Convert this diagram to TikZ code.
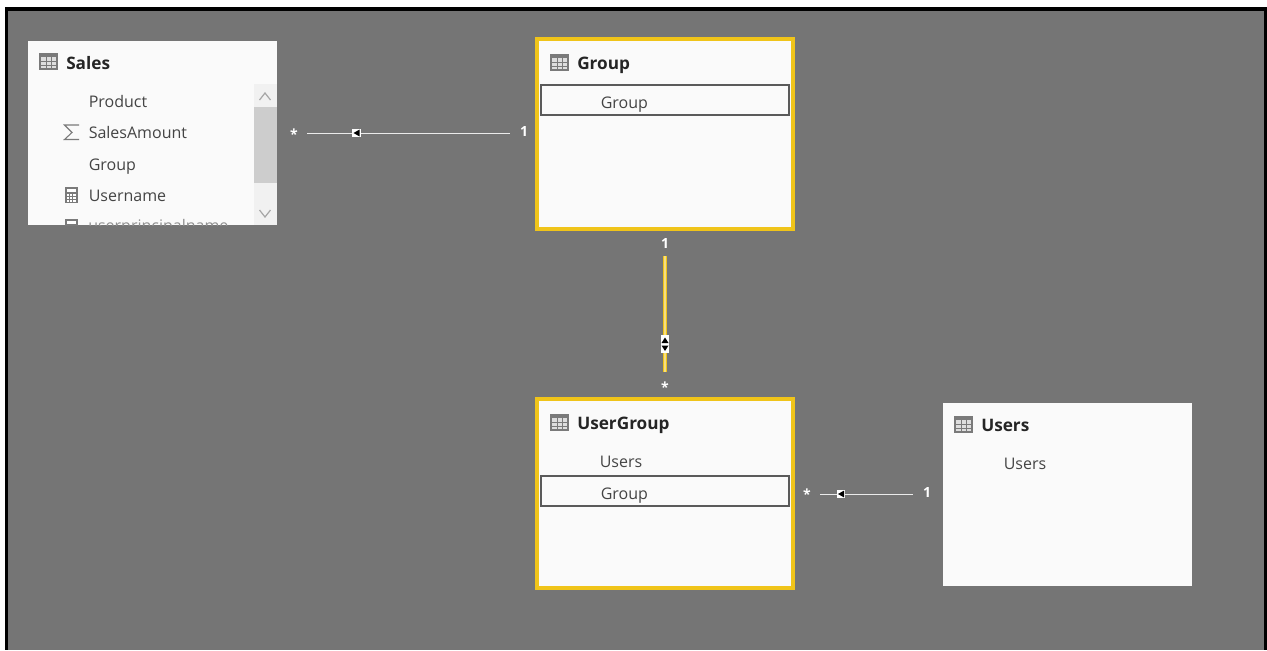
\documentclass[tikz,border=0pt]{standalone}
\usepackage{fontspec}
\setmainfont{Open Sans}
\definecolor{bg}{HTML}{757575}
\definecolor{card}{HTML}{FAFAFA}
\definecolor{pbi}{HTML}{F0C419}
\definecolor{ink}{HTML}{444444}
\definecolor{head}{HTML}{252525}
\definecolor{icon}{HTML}{7A7A7A}
\definecolor{rowline}{HTML}{5A5A5A}
\definecolor{sb}{HTML}{F1F1F1}
\definecolor{thumb}{HTML}{CDCDCD}
\definecolor{chev}{HTML}{A6A6A6}
\tikzset{
  x=0.75pt,y=-0.75pt,
  card/.style={fill=card,draw=none,anchor=north west,inner sep=0pt,outer sep=0pt},
  hot/.style={fill=card,draw=pbi,line width=3pt,anchor=north west,inner sep=0pt,outer sep=0pt},
  rowbox/.style={draw=rowline,line width=1.3pt,fill=none,anchor=north west,inner sep=0pt,outer sep=0pt,minimum width=186pt,minimum height=22.5pt},
  title/.style={anchor=base west,inner sep=0pt,font=\fontsize{12.9}{14}\selectfont\bfseries,text=head},
  field/.style={anchor=base west,inner sep=0pt,font=\fontsize{12}{14}\selectfont,text=ink},
  card mark/.style={inner sep=0pt,outer sep=0pt,font=\fontsize{10.5}{10}\selectfont\bfseries,text=white},
  rel/.style={draw=white!92!black,line width=0.75pt},
  hotrel/.style={draw=pbi,line width=3.6pt},
  hotcore/.style={draw=pbi!55!white,line width=1.2pt},
  flag/.style={fill=white,draw=none,inner sep=0pt,minimum width=6.4pt,minimum height=6.4pt},
  flagv/.style={fill=white,draw=none,inner sep=0pt,minimum width=6pt,minimum height=13.5pt},
}
\newcommand{\tblicon}[2]{%
  \fill[icon!25!white] (#1,#2) rectangle ++(17,15);
  \fill[icon] (#1,#2) rectangle ++(17,3);
  \draw[icon,line width=0.8pt] (#1,#2) rectangle ++(17,15);
  \draw[icon,line width=0.4pt] (#1+6,#2+3) -- ++(0,12) (#1+11.5,#2+3) -- ++(0,12)
     (#1,#2+7) -- ++(17,0) (#1,#2+11) -- ++(17,0);
}
\newcommand{\calcicon}[2]{%
  \fill[icon] (#1,#2) rectangle ++(13,16);
  \fill[white] (#1+2,#2+2) rectangle ++(9,3);
  \foreach \a in {0,3.2,6.4}{\foreach \b in {0,3,6}{
    \fill[white] (#1+2+\a,#2+7+\b) rectangle ++(2.2,2);}}
}
\newcommand{\triL}[2]{\fill[black] (#1+3,#2-3.4) -- (#1-3,#2) -- (#1+3,#2+3.4) -- cycle;}
\begin{document}
\begin{tikzpicture}
\useasboundingbox (0,0) rectangle (1267,650);
\fill[white] (0,0) rectangle (1267,650);
\fill[black] (5,7) rectangle (1267,650);
\fill[bg] (8,11) rectangle (1264,650);

% Sales
\node[card,minimum width=186.75pt,minimum height=138pt] (sales) at (28,41) {};
\begin{scope}
\clip (28,41) rectangle (277,225);
\fill[sb] (254,84) rectangle (277,225);
\fill[thumb] (254,107) rectangle (276.5,183);
\draw[chev,line width=0.9pt] (259.5,100) -- (265,93) -- (270.5,100);
\draw[chev,line width=0.9pt] (259.5,210) -- (265,217) -- (270.5,210);
\calcicon{65}{219}
\node[field,text=ink!60!white] (f5) at (88,231) {userprincipalname};
\end{scope}
\tblicon{40}{54}
\node[title] (salesT) at (66,69) {Sales};
\node[field] (f1) at (88.5,107) {Product};
\node[field] (f2) at (88.5,138) {SalesAmount};
\node[field] (f3) at (88.5,170) {Group};
\node[field] (f4) at (88.5,201) {Username};
\draw[icon,line width=0.8pt] (79,125) -- (64.5,125) -- (72,132.5) -- (64.5,139.5) -- (79,139.5);
\calcicon{65}{187}

% Group
\node[hot,minimum width=192pt,minimum height=142.5pt] (group) at (537,39) {};
\tblicon{551}{55}
\node[title] (groupT) at (577,69) {Group};
\node[rowbox] (groupR) at (541,85) {};
\node[field] (g1) at (600.5,108) {Group};

% UserGroup
\node[hot,minimum width=192pt,minimum height=141.75pt] (ug) at (537,399) {};
\tblicon{551}{415}
\node[title] (ugT) at (577,429) {UserGroup};
\node[field] (u1) at (599.5,467) {Users};
\node[rowbox] (ugR) at (541,476) {};
\node[field] (u2) at (600.5,499) {Group};

% Users
\node[card,minimum width=186.75pt,minimum height=137.25pt] (users) at (943,403) {};
\tblicon{955}{417}
\node[title] (usersT) at (981,431) {Users};
\node[field] (us1) at (1003.5,469) {Users};

% Sales -- Group
\node[card mark,minimum width=19.5pt] (s1) at (294,134) {*};
\node[card mark,minimum width=21pt] (o1) at (524,132) {1};
\coordinate (a1) at (s1.east |- 0,133);
\coordinate (b1) at (o1.west |- 0,133);
\draw[rel] (a1) -- (b1);
\node[flag] (m1) at (356.5,133) {};
\triL{356.5}{133}

% Group -- UserGroup
\node[card mark,minimum height=18.75pt] (o2) at (665,243.5) {1};
\node[card mark,minimum height=22.5pt] (s2) at (665,387) {*};
\draw[hotrel] (o2.south) -- (s2.north);
\draw[hotcore] (o2.south) -- (s2.north);
\node[flagv] (m2) at (665,344) {};
\fill[black] (661.5,343) -- (665,337.5) -- (668.5,343) -- cycle;
\fill[black] (661.5,345.5) -- (665,351) -- (668.5,345.5) -- cycle;

% UserGroup -- Users
\node[card mark,minimum width=19.5pt] (s3) at (807,494) {*};
\node[card mark,minimum width=21pt] (o3) at (927,492) {1};
\coordinate (a3) at (s3.east |- 0,494);
\coordinate (b3) at (o3.west |- 0,494);
\draw[rel] (a3) -- (b3);
\node[flag] (m3) at (841,494) {};
\triL{841}{494}
\end{tikzpicture}
\end{document}
